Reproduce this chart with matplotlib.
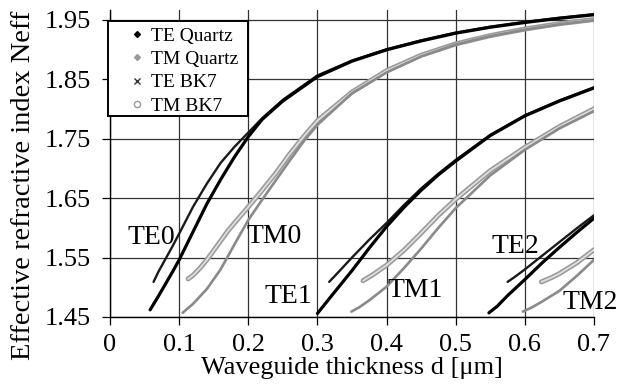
import matplotlib
matplotlib.use("Agg")
import matplotlib.pyplot as plt
from matplotlib.lines import Line2D
from matplotlib.patches import Rectangle

plt.rcParams['font.family'] = ['Liberation Serif', 'DejaVu Serif']

# ---------------- data ----------------
# Mode 0
te0_q_x = [0.058, 0.07, 0.08, 0.09, 0.10, 0.12, 0.14, 0.16, 0.18, 0.20, 0.22, 0.25, 0.30, 0.35, 0.40, 0.45, 0.50, 0.55, 0.60, 0.65, 0.70]
te0_q_y = [1.462, 1.485, 1.505, 1.525, 1.546, 1.593, 1.640, 1.681, 1.719, 1.753, 1.782, 1.813, 1.854, 1.880, 1.899, 1.914, 1.927, 1.937, 1.945, 1.952, 1.958]
te0_b_x = [0.063, 0.07, 0.08, 0.09, 0.10, 0.12, 0.14, 0.16, 0.18, 0.20, 0.22, 0.25, 0.30, 0.35, 0.40, 0.45, 0.50, 0.55, 0.60, 0.65, 0.70]
te0_b_y = [1.509, 1.526, 1.547, 1.568, 1.590, 1.635, 1.674, 1.709, 1.736, 1.760, 1.784, 1.815, 1.856, 1.881, 1.900, 1.915, 1.928, 1.938, 1.946, 1.953, 1.959]
tm0_q_x = [0.105, 0.12, 0.14, 0.16, 0.18, 0.20, 0.22, 0.24, 0.26, 0.28, 0.30, 0.35, 0.40, 0.45, 0.50, 0.55, 0.60, 0.65, 0.70]
tm0_q_y = [1.457, 1.472, 1.497, 1.530, 1.572, 1.613, 1.647, 1.680, 1.713, 1.745, 1.773, 1.826, 1.861, 1.888, 1.908, 1.922, 1.933, 1.942, 1.949]
tm0_b_x = [0.113, 0.12, 0.13, 0.14, 0.152, 0.17, 0.18, 0.20, 0.22, 0.24, 0.26, 0.28, 0.30, 0.35, 0.40, 0.45, 0.50, 0.55, 0.60, 0.65, 0.70]
tm0_b_y = [1.514, 1.520, 1.532, 1.546, 1.565, 1.594, 1.608, 1.635, 1.663, 1.692, 1.724, 1.753, 1.780, 1.828, 1.864, 1.890, 1.909, 1.923, 1.934, 1.943, 1.950]

# Mode 1
te1_q_x = [0.300, 0.32, 0.35, 0.375, 0.40, 0.425, 0.45, 0.475, 0.50, 0.55, 0.60, 0.65, 0.70]
te1_q_y = [1.456, 1.485, 1.528, 1.566, 1.602, 1.634, 1.663, 1.689, 1.712, 1.755, 1.788, 1.813, 1.835]
te1_b_x = [0.317, 0.33, 0.35, 0.375, 0.40, 0.425, 0.45, 0.475, 0.50, 0.55, 0.60, 0.65, 0.70]
te1_b_y = [1.509, 1.525, 1.550, 1.580, 1.608, 1.638, 1.666, 1.691, 1.714, 1.756, 1.789, 1.814, 1.836]
tm1_q_x = [0.349, 0.36, 0.375, 0.40, 0.425, 0.45, 0.475, 0.50, 0.55, 0.60, 0.65, 0.70]
tm1_q_y = [1.459, 1.466, 1.478, 1.501, 1.532, 1.565, 1.600, 1.633, 1.688, 1.731, 1.767, 1.796]
tm1_b_x = [0.366, 0.38, 0.40, 0.425, 0.45, 0.475, 0.50, 0.55, 0.60, 0.65, 0.70]
tm1_b_y = [1.511, 1.521, 1.537, 1.562, 1.591, 1.621, 1.648, 1.696, 1.735, 1.770, 1.800]

# Mode 2
te2_q_x = [0.548, 0.56, 0.575, 0.60, 0.625, 0.65, 0.675, 0.70]
te2_q_y = [1.457, 1.468, 1.486, 1.513, 1.541, 1.567, 1.592, 1.616]
te2_b_x = [0.575, 0.585, 0.60, 0.625, 0.65, 0.675, 0.70]
te2_b_y = [1.509, 1.517, 1.530, 1.553, 1.576, 1.599, 1.621]
tm2_q_x = [0.597, 0.61, 0.625, 0.65, 0.675, 0.70]
tm2_q_y = [1.459, 1.466, 1.476, 1.494, 1.519, 1.546]
tm2_b_x = [0.624, 0.64, 0.65, 0.675, 0.70]
tm2_b_y = [1.509, 1.517, 1.523, 1.541, 1.563]

x_ticks = [0, 0.1, 0.2, 0.3, 0.4, 0.5, 0.6, 0.7]
x_tick_labels = ["0", "0.1", "0.2", "0.3", "0.4", "0.5", "0.6", "0.7"]
y_ticks = [1.45, 1.55, 1.65, 1.75, 1.85, 1.95]
y_tick_labels = ["1.45", "1.55", "1.65", "1.75", "1.85", "1.95"]

series_names = ["TE Quartz", "TM Quartz", "TE BK7", "TM BK7"]
mode_labels = ["TE0", "TM0", "TE1", "TM1", "TE2", "TM2"]
mode_label_pos = [(0.026, 1.583), (0.197, 1.585), (0.224, 1.484),
                  (0.402, 1.495), (0.552, 1.568), (0.655, 1.475)]

# ---------------- figure ----------------
W, H = 629, 385
fig = plt.figure(figsize=(W / 100, H / 100), dpi=100)
ax = fig.add_axes([110 / W, (H - 317) / H, (594 - 110) / W, (317 - 10) / H])

ax.set_xlim(0, 0.7)
ax.set_ylim(1.45, 1.966)

q_te = [(te0_q_x, te0_q_y), (te1_q_x, te1_q_y), (te2_q_x, te2_q_y)]
q_tm = [(tm0_q_x, tm0_q_y), (tm1_q_x, tm1_q_y), (tm2_q_x, tm2_q_y)]
b_te = [(te0_b_x, te0_b_y), (te1_b_x, te1_b_y), (te2_b_x, te2_b_y)]
b_tm = [(tm0_b_x, tm0_b_y), (tm1_b_x, tm1_b_y), (tm2_b_x, tm2_b_y)]

for xs, ys in b_tm:
    ax.plot(xs, ys, color='#9a9a9a', lw=3.6, solid_capstyle='round', zorder=3)
    ax.plot(xs, ys, color='#dedede', lw=1.3, solid_capstyle='round', zorder=3.1)
for xs, ys in q_tm:
    ax.plot(xs, ys, color='#8a8a8a', lw=1.9, solid_capstyle='round', zorder=3.2)
for xs, ys in b_te:
    ax.plot(xs, ys, color='#1a1a1a', lw=1.7, solid_capstyle='round', zorder=3.3)
for xs, ys in q_te:
    ax.plot(xs, ys, color='black', lw=2.3, solid_capstyle='round', zorder=3.4)

ax.set_xticks(x_ticks)
ax.set_xticklabels(x_tick_labels)
ax.set_yticks(y_ticks)
ax.set_yticklabels(y_tick_labels)
ax.tick_params(axis='both', direction='out', length=6, width=0.9,
               labelsize=19, color='black')
ax.tick_params(axis='y', pad=8)
ax.tick_params(axis='x', pad=6)

ax.grid(True, color='#333333', lw=0.9)
ax.set_axisbelow(True)
for s in ['top', 'right']:
    ax.spines[s].set_visible(False)
for s in ['left', 'bottom']:
    ax.spines[s].set_linewidth(1.0)
    ax.spines[s].set_color('black')

for lab, (lx, ly) in zip(mode_labels, mode_label_pos):
    ax.text(lx, ly, lab, fontsize=20, ha='left', va='center', clip_on=False, zorder=5)

ax.set_xlabel("Waveguide thickness d [μm]", fontsize=19, labelpad=1)
fig.text(24 / W, 1 - 185 / H, "Effective refractive index Neff", rotation=90,
         fontsize=20.5, ha='center', va='center')

# legend frame
rect = Rectangle((108 / W, 1 - 116 / H), 140 / W, 95 / H, transform=fig.transFigure,
                 facecolor='white', edgecolor='black', lw=1.4, zorder=10)
fig.patches.append(rect)

handles = [
    Line2D([], [], ls='none', marker='D', ms=3, color='black'),
    Line2D([], [], ls='none', marker='D', ms=3, color='#999999'),
    Line2D([], [], ls='none', marker='x', ms=4, mew=1, color='#333333'),
    Line2D([], [], ls='none', marker='o', ms=4.5, mfc='white', mec='#999999', mew=1),
]
leg = fig.legend(handles, series_names, loc='upper left',
                 bbox_to_anchor=(108 / W, 1 - 23 / H), frameon=False,
                 fontsize=14, labelspacing=0.3, handlelength=2.6,
                 handletextpad=-0.6, borderpad=0.2, borderaxespad=0)
leg.set_zorder(11)

fig.savefig("out.png", dpi=100)
